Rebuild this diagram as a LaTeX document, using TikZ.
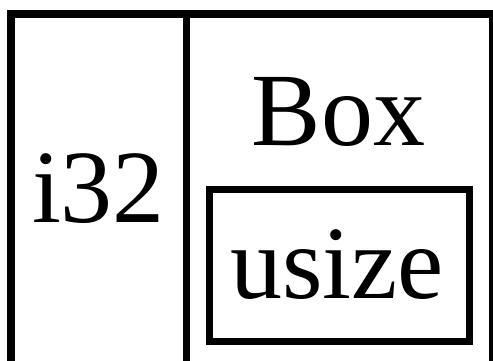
\documentclass[tikz,border=0pt]{standalone}
\usepackage{fontspec}
\setmainfont{Liberation Serif}
\usetikzlibrary{positioning}

\begin{document}
\begin{tikzpicture}[x=1pt,y=1pt,
 frame/.style={draw=black,line width=8pt},
 inner/.style={draw=black,line width=7pt},
 label/.style={anchor=base,inner sep=0pt,font=\fontsize{104}{110}\selectfont}]
\clip (0,0) rectangle (493,360);
\useasboundingbox (0,0) rectangle (493,360);
% outer frame, split in two cells
\draw[frame] (11,-10) rectangle (493,346);
\draw[inner] (186.5,-10) -- (186.5,346);
% the boxed pointer target
\draw[inner] (209.5,19) rectangle (469.5,170.5);
\node[label] (i32) at (98.5,138) {i32};
\node[label] (box) at (338.5,215) {Box};
\node[label] (usize) at (337,62) {usize};
\end{tikzpicture}
\end{document}
